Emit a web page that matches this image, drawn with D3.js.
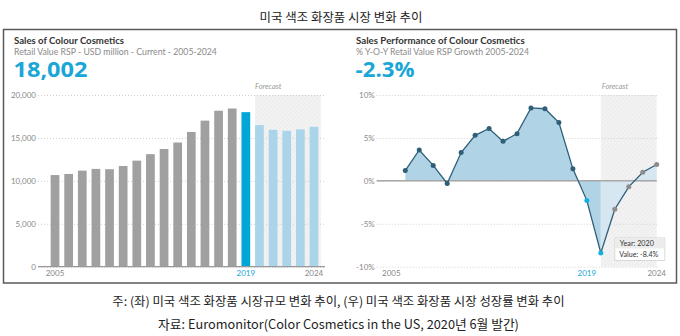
<!DOCTYPE html>
<html><head><meta charset="utf-8">
<script src="https://cdn.jsdelivr.net/npm/d3@7"></script>
<style>
html,body{margin:0;padding:0;background:#fff;}
svg{display:block;}
</style></head>
<body>
<svg id="c" width="680" height="336"></svg>
<script>
const years = d3.range(2005, 2025);
const salesValues = [10674,10802,11191,11392,11358,11733,12355,13109,13712,14466,15696,17014,18170,18426,18002,16490,15946,15834,15992,16296];
const growthYears = d3.range(2006, 2025);
const growthValues = [1.2,3.6,1.8,-0.3,3.3,5.3,6.1,4.6,5.5,8.5,8.4,6.8,1.4,-2.3,-8.4,-3.3,-0.7,1.0,1.9];
const salesTicks = [0,5000,10000,15000,20000];
const growthTicks = [-10,-5,0,5,10];
const xLabels = [2005,2019,2024];
const forecastStart = 2020;
const highlightYear = 2019;

const svg = d3.select("#c");
const FONT = "Lato, 'Open Sans', sans-serif";
const KFONT = "'Noto Sans CJK KR', sans-serif";

function fit(sel, target){
  const node = sel.node();
  const w = node.getComputedTextLength();
  const fs = parseFloat(sel.attr("font-size"));
  if (w > 0) sel.attr("font-size", (fs * target / w).toFixed(2));
  return +sel.attr("font-size");
}

const defs = svg.append("defs");
const pat = defs.append("pattern").attr("id","hatch").attr("patternUnits","userSpaceOnUse")
  .attr("width",3).attr("height",3).attr("patternTransform","rotate(45)");
pat.append("rect").attr("width",3).attr("height",3).attr("fill","#f3f3f3");
pat.append("line").attr("x1",0).attr("y1",0).attr("x2",0).attr("y2",3).attr("stroke","#e4e4e4").attr("stroke-width",1);

// Title
fit(svg.append("text").attr("x",341).attr("y",21.5).attr("text-anchor","middle")
  .attr("font-family",KFONT).attr("font-size",12.5).attr("fill","#222").text("미국 색조 화장품 시장 변화 추이"), 163);

// Box
svg.append("rect").attr("x",3.5).attr("y",29.5).attr("width",673).attr("height",253.5)
  .attr("fill","#fff").attr("stroke","#5a5a5a").attr("stroke-width",1.5);

function header(x, t1, t2, big, w1, w2, w3){
  fit(svg.append("text").attr("x",x).attr("y",44).attr("font-family",FONT).attr("font-weight",700)
    .attr("font-size",9).attr("fill","#333").text(t1), w1);
  fit(svg.append("text").attr("x",x).attr("y",55).attr("font-family",FONT)
    .attr("font-size",8).attr("fill","#8a8a8a").text(t2), w2);
  svg.append("text").attr("x",x-0.5).attr("y",76.5).attr("font-family","'Open Sans', Lato, sans-serif").attr("font-weight",700)
    .attr("font-size",21).attr("textLength",w3).attr("lengthAdjust","spacingAndGlyphs")
    .attr("fill","#1aa6d6").text(big);
}
header(14,"Sales of Colour Cosmetics","Retail Value RSP - USD million - Current - 2005-2024","18,002",110,203,74);
header(356,"Sales Performance of Colour Cosmetics","% Y-O-Y Retail Value RSP Growth 2005-2024","-2.3%",169,173,59);

const tickFS = 8, xFS = 8, fcFS = 7.5;

// ---------- Left chart ----------
const xb = d3.scaleBand().domain(years).range([48.2,320.8]).paddingInner(0.36).paddingOuter(0.18);
const yL = d3.scaleLinear().domain([0,20000]).range([266.7,95]);
const L = svg.append("g");
L.append("rect").attr("x",xb(forecastStart)).attr("y",yL(20000))
  .attr("width",320.8 - xb(forecastStart)).attr("height",yL(0)-yL(20000)).attr("fill","url(#hatch)");
L.append("text").attr("x",xb(forecastStart)).attr("y",89).attr("font-family",FONT).attr("font-style","italic")
  .attr("font-size",fcFS).attr("fill","#999").text("Forecast");
const yAxisL = d3.axisLeft(yL).tickValues(salesTicks).tickSize(-287).tickFormat(d3.format(","));
const gL = L.append("g").attr("transform","translate(38,0)").call(yAxisL);
gL.select(".domain").remove();
gL.selectAll(".tick line").attr("stroke","#cfcfcf").attr("stroke-dasharray","1,2");
gL.selectAll(".tick text").attr("x",-2).attr("font-family",FONT).attr("font-size",tickFS).attr("fill","#888");
L.selectAll("rect.bar").data(years).join("rect").attr("class","bar")
  .attr("x",d=>xb(d)).attr("width",xb.bandwidth())
  .attr("y",(d,i)=>yL(salesValues[i])).attr("height",(d,i)=>yL(0)-yL(salesValues[i]))
  .attr("fill",d=> d===highlightYear ? "#00a6d6" : (d>=forecastStart ? "#aad4ea" : "#a0a0a0"));
L.append("line").attr("x1",38).attr("x2",325).attr("y1",yL(0)).attr("y2",yL(0)).attr("stroke","#999").attr("stroke-width",1.2);
L.selectAll("text.xl").data(xLabels).join("text").attr("class","xl")
  .attr("x",d=>xb(d)+xb.bandwidth()/2).attr("y",276).attr("text-anchor","middle")
  .attr("font-family",FONT).attr("font-size",xFS).attr("fill",d=>d===highlightYear?"#1aa6d6":"#888").text(d=>d);

// ---------- Right chart ----------
const xR = d3.scaleLinear().domain([2005,2024]).range([391.3,656.7]);
const yR = d3.scaleLinear().domain([-10,10]).range([266.7,95]);
const R = svg.append("g");
R.append("rect").attr("x",xR(forecastStart)).attr("y",yR(10)).attr("width",xR(2024)-xR(forecastStart))
  .attr("height",yR(-10)-yR(10)).attr("fill","url(#hatch)");
R.append("text").attr("x",xR(forecastStart)+1).attr("y",89).attr("font-family",FONT).attr("font-style","italic")
  .attr("font-size",fcFS).attr("fill","#999").text("Forecast");
const yAxisR = d3.axisLeft(yR).tickValues(growthTicks).tickSize(-280).tickFormat(d=>d+"%");
const gR = R.append("g").attr("transform","translate(376.7,0)").call(yAxisR);
gR.select(".domain").remove();
gR.selectAll(".tick line").attr("stroke","#cfcfcf").attr("stroke-dasharray","1,2");
gR.selectAll(".tick text").attr("x",-2).attr("font-family",FONT).attr("font-size",tickFS).attr("fill","#888");

const pts = growthYears.map((y,i)=>({y, v:growthValues[i]}));
const area = d3.area().x(d=>xR(d.y)).y0(yR(0)).y1(d=>yR(d.v));
R.append("path").datum(pts.filter(d=>d.y<=forecastStart)).attr("d",area).attr("fill","#b1d3e6");
R.append("path").datum(pts.filter(d=>d.y>=forecastStart)).attr("d",area).attr("fill","#d3e6f1").attr("opacity",0.9);
R.append("line").attr("x1",376.7).attr("x2",656.7).attr("y1",yR(0)).attr("y2",yR(0)).attr("stroke","#a8a8a8").attr("stroke-width",1.5);
R.append("path").datum(pts).attr("d",d3.line().x(d=>xR(d.y)).y(d=>yR(d.v)))
  .attr("fill","none").attr("stroke","#2f5e78").attr("stroke-width",1.3);
R.selectAll("circle").data(pts).join("circle").attr("cx",d=>xR(d.y)).attr("cy",d=>yR(d.v)).attr("r",2.5)
  .attr("fill",d=> (d.y===highlightYear||d.y===forecastStart) ? "#12b0e4" : (d.y>forecastStart ? "#8c8c8c" : "#2f5e78"));
R.selectAll("text.xl").data(xLabels).join("text").attr("class","xl")
  .attr("x",d=>xR(d)).attr("y",276).attr("text-anchor","middle")
  .attr("font-family",FONT).attr("font-size",xFS).attr("fill",d=>d===highlightYear?"#1aa6d6":"#888").text(d=>d);

// tooltip
const tipV = growthValues[growthYears.indexOf(forecastStart)];
const tx = xR(forecastStart)+14, ty = yR(tipV)-15;
const tip = R.append("g").attr("transform",`translate(${tx},${ty})`);
tip.append("rect").attr("x",0).attr("y",0).attr("width",50).attr("height",22.5).attr("fill","#fff").attr("stroke","#d0d0d0").attr("stroke-width",0.8);
tip.append("rect").attr("x",0.5).attr("y",0.5).attr("width",49).attr("height",10).attr("fill","#ececec");
fit(tip.append("text").attr("x",5).attr("y",8.3).attr("font-family",FONT).attr("font-size",7).attr("fill","#333").text("Year: "+forecastStart), 34);
fit(tip.append("text").attr("x",4.5).attr("y",19.3).attr("font-family",FONT).attr("font-size",7).attr("fill","#333").text("Value: "+tipV+"%"), 39);

// footnotes
fit(svg.append("text").attr("x",338.5).attr("y",305.5).attr("text-anchor","middle").attr("font-family",KFONT)
  .attr("font-size",11.5).attr("fill","#222").text("주: (좌) 미국 색조 화장품 시장규모 변화 추이, (우) 미국 색조 화장품 시장 성장률 변화 추이"), 453);
fit(svg.append("text").attr("x",338.5).attr("y",329).attr("text-anchor","middle").attr("font-family",KFONT)
  .attr("font-size",11.5).attr("fill","#222").text("자료: Euromonitor(Color Cosmetics in the US, 2020년 6월 발간)"), 361);
</script>
</body></html>
